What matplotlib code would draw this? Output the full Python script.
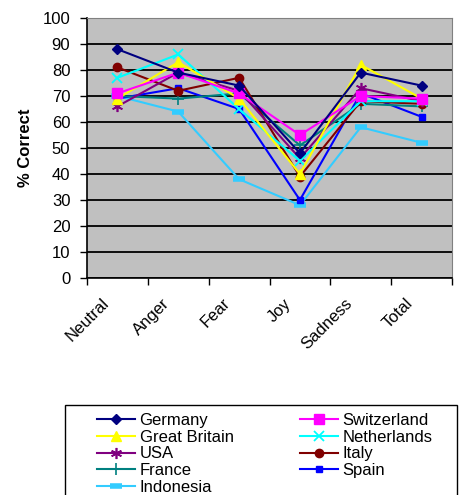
import matplotlib
matplotlib.use("Agg")
import matplotlib.pyplot as plt
import matplotlib.transforms as mtrans
from matplotlib.patches import Rectangle
import numpy as np

plt.rcParams['font.family'] = ['Liberation Sans', 'DejaVu Sans']

categories = ["Neutral", "Anger", "Fear", "Joy", "Sadness", "Total"]
germany = [88, 79, 74, 48, 79, 74]
switzerland = [71, 79, 71, 55, 70, 69]
great_britain = [69, 83, 69, 40, 82, 69]
netherlands = [77, 86, 65, 45, 68, 68]
usa = [66, 79, 72, 46, 73, 68]
italy = [81, 72, 77, 39, 68, 67]
france = [70, 69, 71, 51, 67, 66]
spain = [69, 73, 65, 30, 71, 62]
indonesia = [70, 64, 38, 28, 58, 52]

W, H = 465, 495
fig = plt.figure(figsize=(W/100, H/100), dpi=100)
ax = fig.add_axes([87/W, 1-278/H, (452-87)/W, (278-18)/H])
ax.set_facecolor('#C0C0C0')

x = np.arange(len(categories)) + 0.5
series = [
    ("Germany", germany, dict(color='#000080', marker='D', ms=5)),
    ("Great Britain", great_britain, dict(color='#FFFF00', marker='^', ms=7)),
    ("USA", usa, dict(color='#800080', marker=(6, 2, 0), ms=8, mew=1.2)),
    ("France", france, dict(color='#008080', marker='+', ms=8, mew=1.2)),
    ("Indonesia", indonesia, dict(color='#33CCFF', marker='_', ms=9, mew=4)),
    ("Switzerland", switzerland, dict(color='#FF00FF', marker='s', ms=7)),
    ("Netherlands", netherlands, dict(color='#00FFFF', marker='x', ms=7, mew=1.3)),
    ("Italy", italy, dict(color='#800000', marker='o', ms=6)),
    ("Spain", spain, dict(color='#0000FF', marker='s', ms=4)),
]
draw_order = ["Indonesia", "Spain", "France", "Italy", "USA", "Netherlands",
              "Great Britain", "Switzerland", "Germany"]
lookup = {n: (v, s) for n, v, s in series}
handles = {}
for name in draw_order:
    v, s = lookup[name]
    h, = ax.plot(x, v, lw=1.5, label=name, zorder=3, **s)
    handles[name] = h

ax.set_xlim(0, 6)
ax.set_ylim(0, 100)
ax.set_yticks(np.arange(0, 101, 10))
ax.yaxis.grid(True, color='black', lw=1.3, zorder=1)
ax.set_axisbelow(True)
ax.set_xticks(np.arange(0, 7))
ax.set_xticklabels([])
ax.tick_params(axis='x', which='major', length=5, width=1, direction='out')
ax.tick_params(axis='y', length=5, width=1, direction='out', labelsize=12, pad=7)

# category labels, rotated, anchored below each category centre
base = mtrans.blended_transform_factory(ax.transData, ax.transAxes)
off = mtrans.ScaledTranslation(-11/100, -23/100, fig.dpi_scale_trans)
for xi, cat in zip(x, categories):
    ax.text(xi, 0, cat, transform=base + off, rotation=45, ha='right',
            va='center', rotation_mode='anchor', fontsize=12, clip_on=False)

for s in ['left', 'bottom']:
    ax.spines[s].set_color('black')
    ax.spines[s].set_linewidth(1.2)
for s in ['top', 'right']:
    ax.spines[s].set_color('#808080')
    ax.spines[s].set_linewidth(0.8)
fig.text(25/W, 1-148/H, "% Correct", rotation=90, fontsize=12,
         fontweight='bold', ha='center', va='center')

col1 = ["Germany", "Great Britain", "USA", "France", "Indonesia"]
col2 = ["Switzerland", "Netherlands", "Italy", "Spain"]
common = dict(loc='upper left', frameon=False, fontsize=12, handlelength=2.3,
              labelspacing=0.1, borderpad=0, handletextpad=0.25,
              borderaxespad=0)
leg1 = fig.legend([handles[n] for n in col1], col1,
                  bbox_to_anchor=(97/W, 1-413/H), **common)
leg2 = fig.legend([handles[n] for n in col2], col2,
                  bbox_to_anchor=(300/W, 1-413/H), **common)
fig.add_artist(Rectangle((65/W, -0.05), (457-65)/W, 0.05 + (H-405)/H,
                         transform=fig.transFigure, fill=False,
                         edgecolor='black', lw=1.0))

fig.savefig("out.png", dpi=100)
